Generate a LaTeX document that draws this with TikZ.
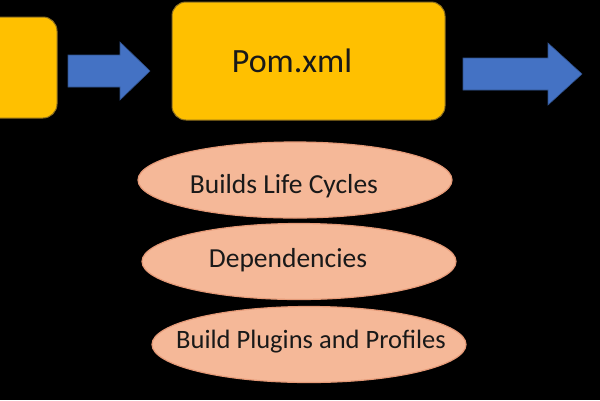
\documentclass[tikz,border=0pt]{standalone}
\usepackage{fontspec}
\setmainfont{Carlito}
\usetikzlibrary{shapes.geometric}
\definecolor{gold}{HTML}{FFC000}
\definecolor{goldedge}{HTML}{8C6E1E}
\definecolor{bluearrow}{HTML}{4472C4}
\definecolor{salmon}{HTML}{F5B898}
\definecolor{salmonedge}{HTML}{E59A78}
\tikzset{
  goldbox/.style={draw=goldedge, line width=1pt, fill=gold, rounded corners=14pt, inner sep=0pt},
  blockarrow/.style={fill=bluearrow, draw=bluearrow!70!black, line width=0.6pt, line join=miter},
  oval/.style={ellipse, draw=salmonedge, line width=1.2pt, fill=salmon, inner sep=0pt, minimum width=314pt, minimum height=76pt},
  ovaltext/.style={font=\fontsize{27.5}{30}\selectfont, text=black!90},
}
\begin{document}
\begin{tikzpicture}[x=1pt,y=-1pt]
\fill[black] (0,0) rectangle (600,400);
\useasboundingbox (0,0) rectangle (600,400);
% boxes
\node[goldbox, minimum width=80pt, minimum height=101pt] (left) at (17,67.5) {};
\node[goldbox, minimum width=273pt, minimum height=118pt] (pom) at (308.5,61) {};
\node[font=\fontsize{34}{38}\selectfont, text=black!90] (pomtext) at (292,61) {Pom.xml};
% block arrows
\coordinate (a1) at (68,71);
\draw[blockarrow] (a1) ++(0,-16) -- ++(52,0) -- ++(0,-13) -- (150,71) -- (120,100) -- ++(0,-13) -- (68,87) -- cycle;
\coordinate (a2) at (463,74);
\draw[blockarrow] (a2) ++(0,-16) -- ++(85,0) -- ++(0,-15) -- (582,74) -- (548,105) -- ++(0,-15) -- (463,90) -- cycle;
% ellipses
\node[oval] (e1) at (295,180) {};
\node[ovaltext] (t1) at (284,186) {Builds Life Cycles};
\node[oval] (e2) at (299,261.5) {};
\node[ovaltext] (t2) at (288,260) {Dependencies};
\node[oval] (e3) at (309,344.5) {};
\node[ovaltext, font=\fontsize{26.5}{30}\selectfont] (t3) at (311,342) {Build Plugins and Profiles};
\end{tikzpicture}
\end{document}
